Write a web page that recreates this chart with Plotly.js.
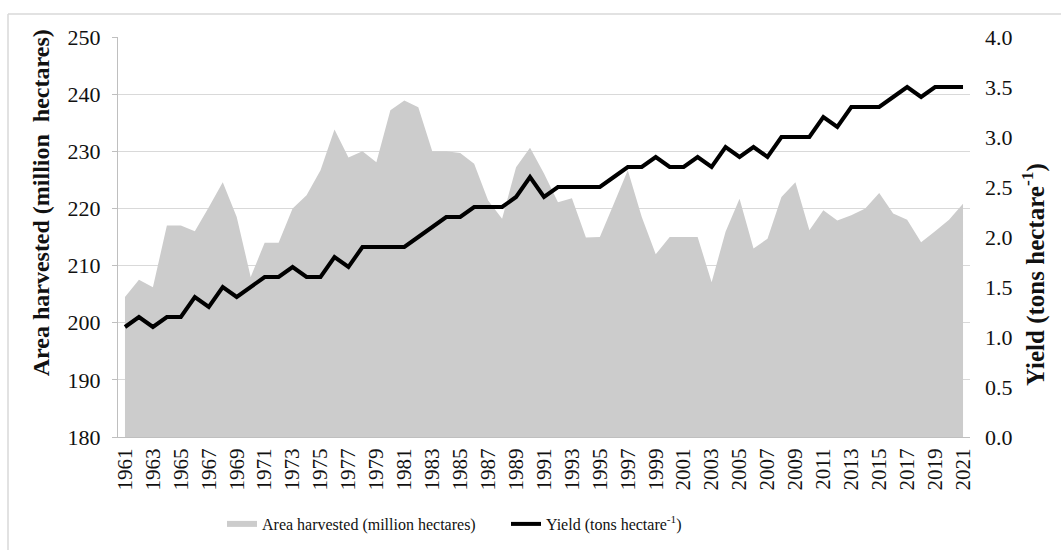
<!DOCTYPE html>
<html>
<head>
<meta charset="utf-8">
<script src="https://cdn.plot.ly/plotly-3.0.1.min.js"></script>
<style>
html,body{margin:0;padding:0;background:#fff;}
#chart{width:1061px;height:550px;}
</style>
</head>
<body>
<div id="chart"></div>
<script>
var years = [1961,1962,1963,1964,1965,1966,1967,1968,1969,1970,
             1971,1972,1973,1974,1975,1976,1977,1978,1979,1980,
             1981,1982,1983,1984,1985,1986,1987,1988,1989,1990,
             1991,1992,1993,1994,1995,1996,1997,1998,1999,2000,
             2001,2002,2003,2004,2005,2006,2007,2008,2009,2010,
             2011,2012,2013,2014,2015,2016,2017,2018,2019,2020,2021];
var areaHarvested = [204.5,207.5,206.2,217,217,216,220.2,224.6,218.5,208,
                     214,214,220,222.3,226.7,233.8,228.9,230,228.1,237.2,
                     238.9,237.7,230,230,229.7,227.8,221.4,218.2,227.2,230.6,
                     226.1,221.1,221.8,214.9,215,220.8,226.7,218.5,212,215,
                     215,215,207.1,215.9,221.7,213,214.7,222,224.6,216.2,
                     219.7,217.9,218.8,220,222.7,219.1,218,214.1,216,218,220.8];
var yieldVals = [1.1,1.2,1.1,1.2,1.2,1.4,1.3,1.5,1.4,1.5,
                 1.6,1.6,1.7,1.6,1.6,1.8,1.7,1.9,1.9,1.9,
                 1.9,2.0,2.1,2.2,2.2,2.3,2.3,2.3,2.4,2.6,
                 2.4,2.5,2.5,2.5,2.5,2.6,2.7,2.7,2.8,2.7,
                 2.7,2.8,2.7,2.9,2.8,2.9,2.8,3.0,3.0,3.0,
                 3.2,3.1,3.3,3.3,3.3,3.4,3.5,3.4,3.5,3.5,3.5];
var xTickYears = [1961,1963,1965,1967,1969,1971,1973,1975,1977,1979,1981,1983,1985,1987,1989,1991,
                  1993,1995,1997,1999,2001,2003,2005,2007,2009,2011,2013,2015,2017,2019,2021];
var leftTicks = [180,190,200,210,220,230,240,250];
var rightTicks = [0,0.5,1,1.5,2,2.5,3,3.5,4];

var serif = 'Liberation Serif, serif';
var txt = '#111111';

var traces = [
  {
    x: years, y: areaHarvested, type: 'scatter', mode: 'none',
    fill: 'tozeroy', fillcolor: '#cccccc',
    name: 'Area harvested (million hectares)', yaxis: 'y', hoverinfo: 'x+y'
  },
  {
    x: years, y: yieldVals, type: 'scatter', mode: 'lines',
    line: {color: '#000000', width: 4, shape: 'linear'},
    name: 'Yield (tons hectare<sup>-1</sup>)', yaxis: 'y2'
  }
];

var layout = {
  width: 1061, height: 550,
  margin: {l: 118, r: 91, t: 37, b: 113, autoexpand: false},
  paper_bgcolor: '#ffffff', plot_bgcolor: '#ffffff',
  font: {family: serif, color: txt, size: 19},
  showlegend: true,
  legend: {
    orientation: 'h', x: 222/1061, xref: 'container', xanchor: 'left',
    y: 1 - 507/550, yref: 'container', yanchor: 'top',
    font: {family: serif, size: 16, color: txt},
    entrywidth: 239, entrywidthmode: 'pixels',
    traceorder: 'normal', bgcolor: 'rgba(0,0,0,0)'
  },
  xaxis: {
    range: [1960.5, 2021.5], tickmode: 'array', tickvals: xTickYears,
    ticktext: xTickYears.map(String), tickangle: -90, automargin: false,
    showgrid: false, zeroline: false, showline: true, linecolor: '#bfbfbf', linewidth: 1,
    ticks: '', ticklabelstandoff: 2, tickfont: {family: serif, size: 21, color: txt}
  },
  yaxis: {
    range: [180, 250], tickmode: 'array', tickvals: leftTicks, automargin: false,
    showgrid: true, gridcolor: '#d9d9d9', gridwidth: 1.3,
    zeroline: false, showline: true, linecolor: '#bfbfbf', linewidth: 1,
    ticks: 'outside', ticklen: 5, tickcolor: '#bfbfbf', ticklabelstandoff: 7,
    tickfont: {family: serif, size: 22, color: txt}
  },
  yaxis2: {
    range: [0, 4], tickmode: 'array', tickvals: rightTicks, tickformat: '.1f',
    overlaying: 'y', side: 'right', showgrid: false, zeroline: false, showline: false,
    ticks: '', ticklabelstandoff: 14, automargin: false,
    tickfont: {family: serif, size: 22, color: txt}
  },
  annotations: [
    {text: '<b>Area harvested (million  hectares)</b>', xref: 'paper', yref: 'paper',
     x: -0.09, y: 0.585, xanchor: 'center', yanchor: 'middle', textangle: -90,
     showarrow: false, font: {family: serif, size: 24, color: txt}},
    {text: '<b>Yield (tons hectare<sup>-1</sup>)</b>', xref: 'paper', yref: 'paper',
     x: 1.074, y: 0.405, xanchor: 'center', yanchor: 'middle', textangle: -90,
     showarrow: false, font: {family: serif, size: 25, color: txt}}
  ],
  shapes: [
    {type: 'line', xref: 'paper', yref: 'paper', x0: -0.1291, x1: 1.2, y0: 1.0575, y1: 1.0575,
     line: {color: '#d9d9d9', width: 1.5}},
    {type: 'line', xref: 'paper', yref: 'paper', x0: -0.1291, x1: -0.1291, y0: 1.0575, y1: -0.4,
     line: {color: '#d9d9d9', width: 1.5}}
  ]
};

Plotly.newPlot('chart', traces, layout, {displayModeBar: false, responsive: false});
</script>
</body>
</html>
